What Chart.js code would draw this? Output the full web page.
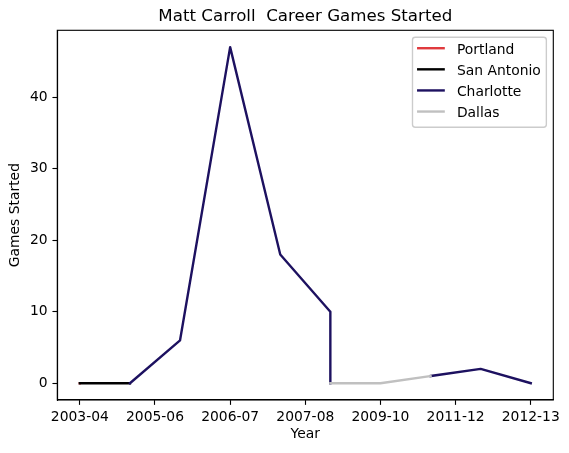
<!DOCTYPE html>
<html>
<head>
<meta charset="utf-8">
<script src="https://cdn.jsdelivr.net/npm/chart.js@4"></script>
<style>
  html, body { margin: 0; padding: 0; background: #fff; }
  #wrap { width: 569px; height: 453px; }
</style>
</head>
<body>
<div id="wrap"><canvas id="careerChart" width="569" height="453"></canvas></div>
<script>
// ── Data ──────────────────────────────────────────────────────────────────────

const seasons = [
  "2003-04", "2004-05", "2005-06", "2006-07", "2007-08",
  "2008-09", "2009-10", "2010-11", "2011-12", "2012-13",
];

const portlandSeasons   = ["2003-04"];
const portlandStarts    = [0];

const sanAntonioSeasons = ["2003-04", "2004-05"];
const sanAntonioStarts  = [0, 0];

// null = break in the Charlotte line (the Dallas spell)
const charlotteSeasons  = ["2004-05", "2005-06", "2006-07", "2007-08", "2008-09",
                           "2008-09", "2009-10", "2010-11", "2011-12", "2012-13"];
const charlotteStarts   = [0, 6, 47, 18, 10, 0, null, 1, 2, 0];

const dallasSeasons     = ["2008-09", "2009-10", "2010-11"];
const dallasStarts      = [0, 0, 1];

const xTickPositions = [0, 1.5, 3, 4.5, 6, 7.5, 9];
const xTickLabels    = ["2003-04", "2005-06", "2006-07", "2007-08", "2009-10", "2011-12", "2012-13"];
const yTicks         = [0, 10, 20, 30, 40];

// ── Helpers ───────────────────────────────────────────────────────────────────

const FONT = "'DejaVu Sans', 'Liberation Sans', sans-serif";
const PT = 100 / 72;          // matplotlib points -> px at 100 dpi
const FS = 10 * PT;           // 10pt text
const LINE_W = 2.4;

function toPoints(seasonList, values) {
  return seasonList.map((s, i) => ({ x: seasons.indexOf(s), y: values[i] }));
}

function teamLine(label, seasonList, values, color, order) {
  return {
    label,
    data: toPoints(seasonList, values),
    borderColor: color,
    backgroundColor: color,
    borderWidth: LINE_W,
    borderCapStyle: "square",
    borderJoinStyle: "round",
    pointRadius: 0,
    pointHoverRadius: 0,
    tension: 0,
    spanGaps: false,
    order,
  };
}

const allStarts = [...portlandStarts, ...sanAntonioStarts, ...charlotteStarts, ...dallasStarts]
  .filter((v) => v !== null);
const yLo = Math.min(...allStarts);
const yHi = Math.max(...allStarts);
const yPad = (yHi - yLo) * 0.05;
const xPad = (seasons.length - 1) * 0.05;

// Box around the axes (matplotlib spines)
const framePlugin = {
  id: "frame",
  afterDatasetsDraw(chart) {
    const { ctx, chartArea: a } = chart;
    ctx.save();
    ctx.strokeStyle = "#000";
    ctx.lineWidth = 0.8 * PT;
    ctx.strokeRect(a.left, a.top, a.right - a.left, a.bottom - a.top);
    ctx.restore();
  },
};

// matplotlib-style legend in the upper right of the axes
const legendBoxPlugin = {
  id: "legendBox",
  afterDraw(chart) {
    const { ctx, chartArea: a } = chart;
    const sets = chart.data.datasets;
    ctx.save();
    ctx.font = `${FS}px ${FONT}`;
    const textW = Math.max(...sets.map((d) => ctx.measureText(d.label).width));
    const pad = 0.4 * FS, handle = 2 * FS, gap = 0.8 * FS, rowH = 1.52 * FS;
    const w = pad + handle + gap + textW + pad;
    const h = pad * 2 + rowH * sets.length - 0.5 * FS + 0.1 * FS;
    const right = a.right - 0.5 * FS;
    const top = a.top + 0.5 * FS;
    const left = right - w;

    ctx.beginPath();
    ctx.roundRect(left, top, w, h, 0.2 * FS);
    ctx.fillStyle = "rgba(255,255,255,0.8)";
    ctx.fill();
    ctx.strokeStyle = "#cccccc";
    ctx.lineWidth = 1 * PT;
    ctx.stroke();

    sets.forEach((d, i) => {
      const y = top + pad + 0.39 * FS + i * rowH;
      ctx.beginPath();
      ctx.moveTo(left + pad - 1, y);
      ctx.lineTo(left + pad - 1 + handle, y);
      ctx.strokeStyle = d.borderColor;
      ctx.lineWidth = LINE_W;
      ctx.stroke();
      ctx.fillStyle = "#000";
      ctx.textBaseline = "alphabetic";
      ctx.fillText(d.label, left + pad + handle + gap, y + 5.6);
    });
    ctx.restore();
  },
};

// ── Chart ─────────────────────────────────────────────────────────────────────

new Chart(document.getElementById("careerChart"), {
  type: "line",
  data: {
    datasets: [
      teamLine("Portland",    portlandSeasons,   portlandStarts,   "#E03A3E", 3),
      teamLine("San Antonio", sanAntonioSeasons, sanAntonioStarts, "#000000", 2),
      teamLine("Charlotte",   charlotteSeasons,  charlotteStarts,  "#1D1160", 1),
      teamLine("Dallas",      dallasSeasons,     dallasStarts,     "#C0C0C0", 0),
    ],
  },
  options: {
    responsive: false,
    animation: false,
    layout: { padding: { left: 0, right: 15.7, top: 0, bottom: 0 } },
    plugins: {
      legend: { display: false },
      tooltip: { enabled: false },
      title: {
        display: true,
        text: "Matt Carroll  Career Games Started",
        color: "#000",
        fullSize: false,
        font: { family: FONT, size: 12 * PT, weight: "normal", lineHeight: 1.2 },
        padding: { top: 6.2, bottom: 4.1 },
      },
    },
    scales: {
      x: {
        type: "linear",
        min: -xPad,
        max: seasons.length - 1 + xPad,
        afterFit: (s) => { s.height = 53; },
        afterBuildTicks: (s) => { s.ticks = xTickPositions.map((v) => ({ value: v })); },
        ticks: {
          autoSkip: false,
          maxRotation: 0,
          padding: 3.7,
          color: "#000",
          font: { family: FONT, size: FS },
          callback: (v) => xTickLabels[xTickPositions.indexOf(v)] ?? "",
        },
        grid: {
          drawOnChartArea: false,
          tickLength: 3.5 * PT,
          tickWidth: 0.8 * PT,
          tickColor: "#000",
        },
        border: { display: true, color: "#000", width: 0.8 * PT },
        title: {
          display: true,
          text: "Year",
          color: "#000",
          font: { family: FONT, size: FS },
          padding: { top: 0, bottom: 10.2 },
        },
      },
      y: {
        type: "linear",
        min: yLo - yPad,
        max: yHi + yPad,
        afterFit: (s) => { s.width = 57.3; },
        afterBuildTicks: (s) => { s.ticks = yTicks.map((v) => ({ value: v })); },
        ticks: {
          padding: 3.5 * PT,
          color: "#000",
          font: { family: FONT, size: FS },
        },
        grid: {
          drawOnChartArea: false,
          tickLength: 3.5 * PT,
          tickWidth: 0.8 * PT,
          tickColor: "#000",
        },
        border: { display: true, color: "#000", width: 0.8 * PT },
        title: {
          display: true,
          text: "Games Started",
          color: "#000",
          font: { family: FONT, size: FS },
          padding: { top: 7.5, bottom: 0 },
        },
      },
    },
  },
  plugins: [framePlugin, legendBoxPlugin],
});
</script>
</body>
</html>
